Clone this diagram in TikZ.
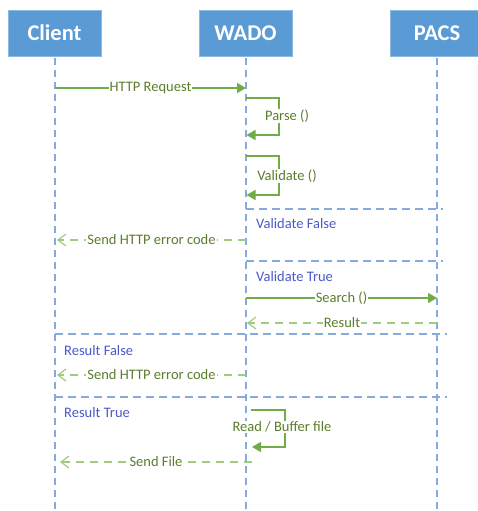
\documentclass[tikz,border=0pt]{standalone}
\usepackage{fontspec}
\setmainfont{Carlito}
\usetikzlibrary{arrows.meta}
\definecolor{hdr}{RGB}{91,155,213}
\definecolor{lifec}{RGB}{133,170,220}
\definecolor{msgc}{RGB}{112,173,71}
\definecolor{retc}{RGB}{160,204,130}
\definecolor{lblc}{RGB}{92,125,45}
\definecolor{fragc}{RGB}{75,90,200}
\tikzset{
  hdrbox/.style={fill=hdr, draw=hdr!70!white, line width=0.6pt, minimum width=93pt, minimum height=46pt, inner sep=0pt, text=white, font=\fontsize{22.5}{24}\selectfont\bfseries},
  life/.style={draw=lifec, line width=1.4pt, dash pattern=on 7pt off 5pt},
  frag/.style={draw=lifec, line width=1.4pt, dash pattern=on 8pt off 5pt},
  msg/.style={draw=msgc, line width=1.4pt, -{Triangle[length=9pt,width=10pt]}},
  ret/.style={draw=retc, line width=1.4pt, dash pattern=on 8pt off 6pt, -{Straight Barb[length=8pt,width=12pt,line width=1.2pt]}},
  lbl/.style={fill=white, inner sep=1pt, text=lblc, font=\fontsize{14.5}{16}\selectfont},
  fraglbl/.style={anchor=west, inner sep=0pt, text=fragc, font=\fontsize{14.5}{16}\selectfont}
}
\begin{document}
\begin{tikzpicture}[x=1pt,y=-1pt]
\clip (0,0) rectangle (478,511);
\fill[white] (0,0) rectangle (478,511);
% headers
\node[hdrbox] (client) at (54.5,33) {Client};
\node[hdrbox] (wado) at (245.5,33) {WADO};
\node[hdrbox] (pacs) at (437,33) {PACS};
% lifeline ends
\coordinate (cTop) at (55,58);  \coordinate (cBot) at (55,511);
\coordinate (wTop) at (246,58); \coordinate (wBot) at (246,511);
\coordinate (pTop) at (437,58); \coordinate (pBot) at (437,511);
\draw[life] (cTop) -- (cBot);
\draw[life] (wTop) -- (wBot);
\draw[life] (pTop) -- (pBot);
% fragment separators
\coordinate (f1a) at (246,209); \coordinate (f1b) at (443,209);
\coordinate (f2a) at (246,261); \coordinate (f2b) at (443,261);
\coordinate (f3a) at (55,334);  \coordinate (f3b) at (447,334);
\coordinate (f4a) at (55,397);  \coordinate (f4b) at (447,397);
\draw[frag] (f1a) -- (f1b);
\draw[frag] (f2a) -- (f2b);
\draw[frag] (f3a) -- (f3b);
\draw[frag] (f4a) -- (f4b);
\node[fraglbl] (vf) at (256,224) {Validate False};
\node[fraglbl] (vt) at (256,277) {Validate True};
\node[fraglbl] (rf) at (64,351) {Result False};
\node[fraglbl] (rt) at (64,413) {Result True};
% HTTP request
\coordinate (m1a) at (55,88); \coordinate (m1b) at (246,88);
\draw[msg] (m1a) -- node[lbl] (l1) {HTTP Request} (m1b);
% Parse
\coordinate (p1) at (246,98); \coordinate (p2) at (279,98);
\coordinate (p3) at (279,135); \coordinate (p4) at (246.5,135);
\draw[msg] (p1) -- (p2) -- (p3) -- (p4);
\node[lbl] (l2) at (287,116) {Parse ()};
% Validate
\coordinate (v1) at (246,156); \coordinate (v2) at (279,156);
\coordinate (v3) at (279,195); \coordinate (v4) at (246.5,195);
\draw[msg] (v1) -- (v2) -- (v3) -- (v4);
\node[lbl] (l3) at (287,176) {Validate ()};
% Send HTTP error code 1
\coordinate (e1a) at (246,240); \coordinate (e1b) at (57,240);
\draw[ret] (e1a) -- node[lbl] (l4) {Send HTTP error code} (e1b);
% Search
\coordinate (s1a) at (246,298); \coordinate (s1b) at (437,298);
\draw[msg] (s1a) -- node[lbl] (l5) {Search ()} (s1b);
% Result
\coordinate (r1a) at (437,323); \coordinate (r1b) at (247,323);
\draw[ret] (r1a) -- node[lbl] (l6) {Result} (r1b);
% Send HTTP error code 2
\coordinate (e2a) at (246,375); \coordinate (e2b) at (57,375);
\draw[ret] (e2a) -- node[lbl] (l7) {Send HTTP error code} (e2b);
% Read / Buffer file
\coordinate (b1) at (251,410); \coordinate (b2) at (285,410);
\coordinate (b3) at (285,447); \coordinate (b4) at (252,447);
\draw[msg] (b1) -- (b2) -- (b3) -- (b4);
\node[lbl] (l8) at (282,427) {Read / Buffer file};
% Send File
\coordinate (sfa) at (252,462); \coordinate (sfb) at (60,462);
\draw[ret] (sfa) -- node[lbl] (l9) {Send File} (sfb);
\end{tikzpicture}
\end{document}
